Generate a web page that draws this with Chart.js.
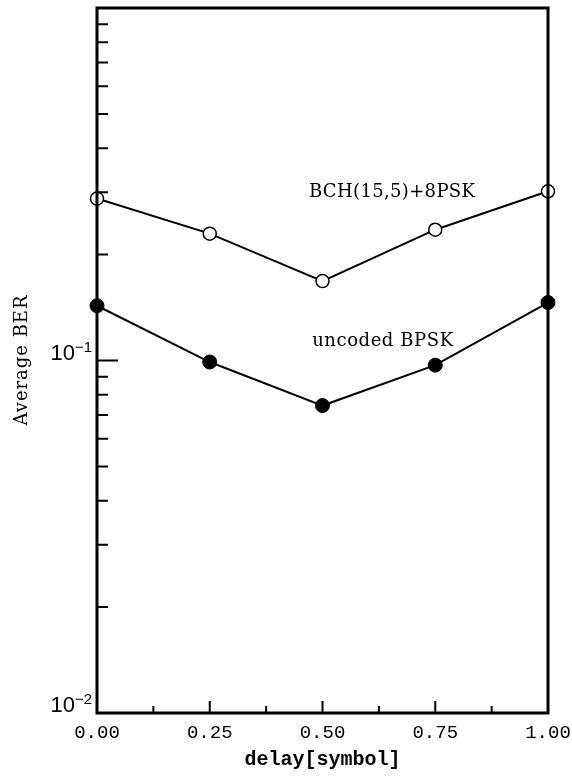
<!DOCTYPE html>
<html><head><meta charset="utf-8">
<script src="https://cdn.jsdelivr.net/npm/chart.js@4/dist/chart.umd.min.js"></script>
<style>html,body{margin:0;padding:0;background:#fff;}</style>
</head><body>
<canvas id="c" width="572" height="782"></canvas>
<script>
// ---- data ----
const delays = [0, 0.25, 0.5, 0.75, 1.0];
const bchBER = [0.288, 0.229, 0.168, 0.235, 0.302];
const uncodedBER = [0.143, 0.099, 0.0745, 0.097, 0.146];
const seriesNames = ['BCH(15,5)+8PSK', 'uncoded BPSK'];
const xTickValues = [0, 0.25, 0.5, 0.75, 1.0];
const xMinorTicks = [0.125, 0.375, 0.625, 0.875];
const yMajorTicks = [0.01, 0.1, 1];
const yMinorTicks = [0.02, 0.03, 0.04, 0.05, 0.06, 0.07, 0.08, 0.09, 0.2, 0.3, 0.4, 0.5, 0.6, 0.7, 0.8, 0.9];
const yLabelExponents = [-2, -1];
const xTitle = 'delay[symbol]';
const yTitle = 'Average BER';

// ---- styling / annotation placement (not data) ----
const seriesLabelAnchors = [{x: 0.47, y: 0.299}, {x: 0.477, y: 0.1133}];
const seriesLabelWidths = [166, 141];
const serifFont = '18px "DejaVu Serif"';

function spacedText(ctx, text, x, y, targetW, align) {
  ctx.letterSpacing = '0px';
  const nat = ctx.measureText(text).width;
  const sp = Math.max(0, (targetW - nat) / (text.length - 1));
  ctx.letterSpacing = sp + 'px';
  const w = nat + sp * (text.length - 1);
  const sx = align === 'center' ? x - w / 2 : x;
  ctx.textAlign = 'left';
  ctx.fillText(text, sx, y);
  ctx.letterSpacing = '0px';
}

const framePlugin = {
  id: 'frame',
  afterDatasetsDraw(chart) {
    const {ctx, chartArea: a, scales: {x, y}} = chart;
    ctx.save();
    ctx.strokeStyle = '#000';
    ctx.lineWidth = 3;
    ctx.strokeRect(a.left, a.top, a.right - a.left, a.bottom - a.top);
    ctx.lineWidth = 2;
    ctx.beginPath();
    yMinorTicks.forEach(v => { const p = y.getPixelForValue(v); ctx.moveTo(a.left, p); ctx.lineTo(a.left + 11, p); });
    yMajorTicks.forEach(v => { const p = y.getPixelForValue(v); ctx.moveTo(a.left, p); ctx.lineTo(a.left + 21, p); });
    xMinorTicks.forEach(v => { const p = x.getPixelForValue(v); ctx.moveTo(p, a.bottom); ctx.lineTo(p, a.bottom - 7); });
    xTickValues.forEach(v => { const p = x.getPixelForValue(v); ctx.moveTo(p, a.bottom); ctx.lineTo(p, a.bottom - 12); });
    ctx.stroke();
    ctx.restore();
  },
  afterDraw(chart) {
    const {ctx, chartArea: a, scales: {x, y}} = chart;
    ctx.save();
    ctx.fillStyle = '#000';
    // y tick labels 10^n
    yLabelExponents.forEach(e => {
      const py = y.getPixelForValue(Math.pow(10, e)) - 1;
      const right = a.left - 5;
      ctx.textBaseline = 'alphabetic';
      ctx.font = '15px "Liberation Sans"';
      const sup = '\u2212' + Math.abs(e);
      const sw = ctx.measureText(sup).width;
      ctx.textAlign = 'right';
      ctx.fillText(sup, right, py - 8);
      ctx.font = '22px "Liberation Sans"';
      ctx.fillText('10', right - sw, py);
    });
    // y title
    ctx.font = serifFont;
    ctx.textBaseline = 'middle';
    ctx.save();
    ctx.translate(22, (a.top + a.bottom) / 2);
    ctx.rotate(-Math.PI / 2);
    spacedText(ctx, yTitle, 0, 0, 130, 'center');
    ctx.restore();
    // series labels
    seriesNames.forEach((name, i) => {
      const px = x.getPixelForValue(seriesLabelAnchors[i].x);
      const py = y.getPixelForValue(seriesLabelAnchors[i].y);
      spacedText(ctx, name, px, py, seriesLabelWidths[i], 'left');
    });
    ctx.restore();
  }
};

new Chart(document.getElementById('c'), {
  type: 'line',
  data: {
    datasets: [
      {
        label: seriesNames[0],
        data: delays.map((d, i) => ({x: d, y: bchBER[i]})),
        borderColor: '#000', borderWidth: 2, tension: 0,
        pointRadius: 6.5, pointBackgroundColor: '#fff', pointBorderColor: '#000', pointBorderWidth: 1.5,
        clip: false
      },
      {
        label: seriesNames[1],
        data: delays.map((d, i) => ({x: d, y: uncodedBER[i]})),
        borderColor: '#000', borderWidth: 2, tension: 0,
        pointRadius: 7, pointBackgroundColor: '#000', pointBorderColor: '#000', pointBorderWidth: 1,
        clip: false
      }
    ]
  },
  options: {
    responsive: false, animation: false, devicePixelRatio: 1,
    layout: {padding: {top: 8, right: 24, left: 0, bottom: 0}},
    plugins: {legend: {display: false}, tooltip: {enabled: false}},
    scales: {
      x: {
        type: 'linear', min: 0, max: 1,
        grid: {display: false}, border: {display: false},
        afterBuildTicks: s => { s.ticks = xTickValues.map(v => ({value: v})); },
        ticks: {
          callback: v => Number(v).toFixed(2),
          font: {family: 'Liberation Mono', size: 19}, color: '#000',
          padding: 1, maxRotation: 0, autoSkip: false
        },
        title: {display: true, text: xTitle, color: '#000',
          font: {family: 'Liberation Mono', size: 20, weight: 'bold'}, padding: {top: 0, bottom: 10}},
        afterFit: s => { s.height = 69; s.paddingLeft = 0; s.paddingRight = 0; }
      },
      y: {
        type: 'logarithmic', min: 0.01, max: 1,
        grid: {display: false}, border: {display: false},
        ticks: {display: false},
        afterFit: s => { s.width = 97; }
      }
    }
  },
  plugins: [framePlugin]
});
</script>
</body></html>
